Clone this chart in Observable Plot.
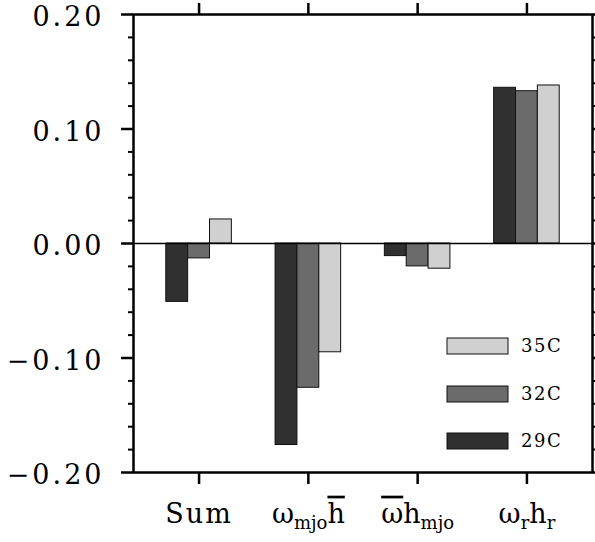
<!DOCTYPE html>
<html>
<head>
<meta charset="utf-8">
<script src="https://cdn.jsdelivr.net/npm/d3@7"></script>
<script src="https://cdn.jsdelivr.net/npm/@observablehq/plot@0.6"></script>
<style>
  body { margin: 0; background: #fff; }
  #chart svg { display: block; }
</style>
</head>
<body>
<div id="chart"></div>
<script>
// Budget terms (groups) and experiments (bars within each group)
const terms = ["Sum", "omega_mjo hbar", "omegabar h_mjo", "omega_r h_r"];
const runs = ["29C", "32C", "35C"];

// Values per experiment, in the order of `terms`
const values29C = [-0.051, -0.176, -0.011, 0.136];
const values32C = [-0.013, -0.126, -0.020, 0.133];
const values35C = [0.021, -0.095, -0.022, 0.138];

const runColors = ["#303030", "#6b6b6b", "#d0d0d0"];

// Axis ticks
const yMajorTicks = [-0.2, -0.1, 0, 0.1, 0.2];
const yMinorTicks = [-0.18, -0.16, -0.14, -0.12, -0.08, -0.06, -0.04, -0.02,
                     0.02, 0.04, 0.06, 0.08, 0.12, 0.14, 0.16, 0.18];

// Tick label pieces: plain text, subscripts and overbars
const termLabels = [
  [{t: "Sum"}],
  [{t: "ω"}, {t: "mjo", sub: true}, {t: "h", bar: true}],
  [{t: "ω", bar: true}, {t: "h"}, {t: "mjo", sub: true}],
  [{t: "ω"}, {t: "r", sub: true}, {t: "h"}, {t: "r", sub: true}]
];

// Grouped layout: each group is centred on its term index, bars side by side
const barWidth = 0.2;
const seriesValues = [values29C, values32C, values35C];
const rows = terms.flatMap((term, i) =>
  runs.map((run, j) => ({
    term, run,
    x1: i + (j - 1.5) * barWidth,
    x2: i + (j - 0.5) * barWidth,
    value: seriesValues[j][i]
  }))
);

const fmt = d3.format(".2f");

const chart = Plot.plot({
  width: 595,
  height: 542,
  marginLeft: 133,
  marginRight: 3,
  marginTop: 14,
  marginBottom: 70,
  x: {domain: [-0.6, 3.6], axis: null},
  y: {domain: [-0.2, 0.2], axis: null},
  color: {domain: runs, range: runColors},
  style: {fontFamily: "DejaVu Serif", fontSize: "27px", color: "#000", background: "#fff"},
  marks: [
    Plot.rectY(rows, {x1: "x1", x2: "x2", y1: 0, y2: "value", fill: "run", stroke: "#111", strokeWidth: 1}),
    Plot.ruleY([0], {stroke: "#000", strokeWidth: 1.3}),
    // left axis
    Plot.axisY(yMinorTicks, {anchor: "left", tickSize: 5, strokeWidth: 2, fill: "none", label: null}),
    Plot.axisY(yMajorTicks, {anchor: "left", tickSize: 12, strokeWidth: 2.5, tickPadding: 17, tickFormat: fmt, fontSize: 27, label: null}),
    // right axis
    Plot.axisY(yMinorTicks, {anchor: "right", tickSize: 5, strokeWidth: 2, fill: "none", label: null}),
    Plot.axisY(yMajorTicks, {anchor: "right", tickSize: 12, strokeWidth: 2.5, fill: "none", label: null}),
    // bottom and top axes at the group centres
    Plot.axisX([0, 1, 2, 3], {anchor: "bottom", tickSize: 12, strokeWidth: 2.5, tickPadding: 19, tickFormat: (i) => terms[i], fontSize: 27, label: null}),
    Plot.axisX([0, 1, 2, 3], {anchor: "top", tickSize: 12, strokeWidth: 2.5, fill: "none", label: null}),
    Plot.frame({stroke: "#000", strokeWidth: 2.5})
  ]
});

document.getElementById("chart").appendChild(chart);

const svg = d3.select(chart);

// Value labels: wider letter spacing, set slightly below their ticks
svg.selectAll("g[aria-label='y-axis tick label']")
  .attr("transform", function () {
    const t = this.getAttribute("transform");
    return (t ? t + " " : "") + "translate(0,3)";
  })
  .selectAll("text").style("letter-spacing", "3px");

// Rebuild the term labels with subscripts and overbars
svg.selectAll("g[aria-label='x-axis tick label'] text").each(function (d, k) {
  const text = d3.select(this);
  const parts = termLabels[k];
  text.text(null);
  let shifted = false;
  parts.forEach((p) => {
    const ts = text.append("tspan").text(p.t);
    if (p.sub) {
      ts.attr("font-size", "18px").attr("dy", shifted ? null : "6");
      shifted = true;
    } else if (shifted) {
      ts.attr("dy", "-6");
      shifted = false;
    }
    if (p.bar) ts.style("text-decoration", "overline").style("text-decoration-thickness", "1.5px");
  });
  if (parts.length === 1) text.style("letter-spacing", "2px");
});

// Legend inside the lower right of the frame
const legendItems = [
  {run: "35C", color: runColors[2], y: 338},
  {run: "32C", color: runColors[1], y: 386},
  {run: "29C", color: runColors[0], y: 433}
];
const legend = svg.append("g").attr("aria-label", "legend");
legendItems.forEach((item) => {
  legend.append("rect")
    .attr("x", 447).attr("y", item.y)
    .attr("width", 61).attr("height", 16)
    .attr("fill", item.color).attr("stroke", "#111").attr("stroke-width", 1);
  legend.append("text")
    .attr("x", 521).attr("y", item.y + 8)
    .attr("dy", "0.36em")
    .attr("text-anchor", "start")
    .attr("font-family", "DejaVu Serif")
    .attr("font-size", "18px")
    .style("letter-spacing", "1.5px")
    .attr("fill", "#000")
    .text(item.run);
});
</script>
</body>
</html>
